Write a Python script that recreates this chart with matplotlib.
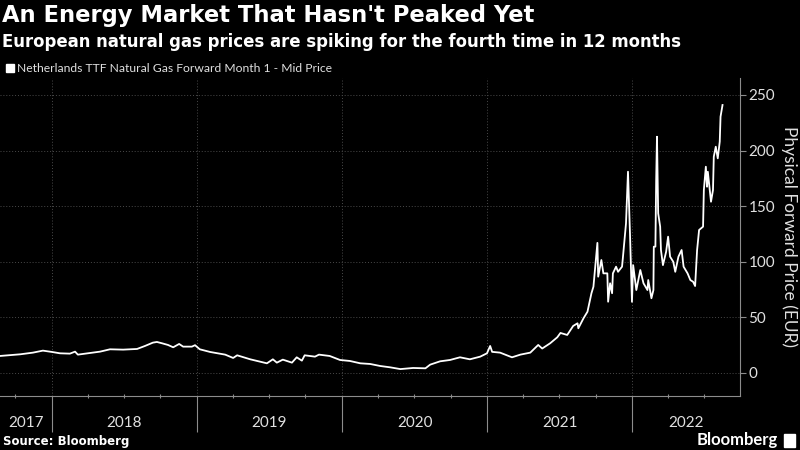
import matplotlib
matplotlib.use("Agg")
import matplotlib.pyplot as plt
import matplotlib.dates as mdates
from matplotlib.patches import Rectangle
import pandas as pd

# TTF front-month prices (EUR/MWh)
dates = ["2017-08-23", "2017-10-13", "2017-11-14", "2017-12-09", "2018-01-01", "2018-01-21",
         "2018-02-15", "2018-02-28", "2018-03-07", "2018-04-06", "2018-05-02", "2018-05-27",
         "2018-06-29", "2018-08-03", "2018-08-23", "2018-09-12", "2018-09-22", "2018-10-05",
         "2018-10-20", "2018-11-02", "2018-11-17", "2018-11-27", "2018-12-19", "2018-12-27",
         "2019-01-08", "2019-02-03", "2019-03-13", "2019-04-02", "2019-04-12", "2019-05-15",
         "2019-06-26", "2019-07-11", "2019-07-21", "2019-08-05", "2019-08-28", "2019-09-09",
         "2019-09-22", "2019-09-29", "2019-10-25", "2019-11-04", "2019-12-01", "2019-12-27",
         "2020-01-21", "2020-02-16", "2020-03-12", "2020-04-06", "2020-05-01", "2020-05-27",
         "2020-06-28", "2020-07-29", "2020-08-10", "2020-09-04", "2020-09-29", "2020-10-24",
         "2020-11-18", "2020-12-14", "2020-12-31", "2021-01-08", "2021-01-13", "2021-02-02",
         "2021-03-04", "2021-03-25", "2021-04-19", "2021-05-09", "2021-05-19", "2021-06-08",
         "2021-06-26", "2021-07-04", "2021-07-21", "2021-08-05", "2021-08-16", "2021-08-18",
         "2021-08-31", "2021-09-10", "2021-09-20", "2021-09-25", "2021-10-05", "2021-10-07",
         "2021-10-15", "2021-10-20", "2021-10-30", "2021-11-01", "2021-11-06", "2021-11-11",
         "2021-11-13", "2021-11-21", "2021-11-26", "2021-12-06", "2021-12-08", "2021-12-16",
         "2021-12-21", "2021-12-26", "2021-12-31", "2022-01-03", "2022-01-11", "2022-01-16",
         "2022-01-21", "2022-01-29", "2022-02-03", "2022-02-08", "2022-02-10", "2022-02-18",
         "2022-02-23", "2022-02-24", "2022-02-28", "2022-03-02", "2022-03-04", "2022-03-07",
         "2022-03-12", "2022-03-14", "2022-03-19", "2022-03-27", "2022-04-01", "2022-04-06",
         "2022-04-14", "2022-04-19", "2022-04-27", "2022-05-05", "2022-05-10", "2022-05-20",
         "2022-05-27", "2022-06-03", "2022-06-08", "2022-06-13", "2022-06-18", "2022-06-28",
         "2022-06-30", "2022-07-05", "2022-07-08", "2022-07-10", "2022-07-18", "2022-07-23",
         "2022-07-25", "2022-07-30", "2022-08-04", "2022-08-09", "2022-08-11", "2022-08-16"]
prices = [15.3, 16.8, 18.3, 20.1, 18.9, 17.7,
          17.4, 19.2, 16.5, 18.0, 19.2, 21.3,
          21.0, 21.6, 24.3, 27.3, 27.9, 26.7,
          25.2, 23.1, 26.1, 23.7, 23.7, 25.0,
          21.3, 18.9, 16.5, 13.5, 15.9, 12.3,
          8.7, 12.3, 9.3, 12.0, 9.3, 14.1,
          11.1, 15.9, 14.7, 16.5, 15.3, 11.7,
          10.8, 8.7, 8.1, 6.3, 5.1, 3.5,
          4.5, 4.2, 7.5, 10.5, 11.7, 14.1,
          12.3, 14.7, 17.7, 24.3, 19.0, 18.3,
          14.1, 16.5, 18.3, 25.2, 22.0, 26.7,
          32.1, 36.0, 34.2, 42.3, 44.7, 40.2,
          49.2, 55.1, 71.7, 77.6, 117.0, 86.6,
          101.6, 89.6, 89.6, 64.1, 80.7, 71.7,
          89.6, 95.6, 91.0, 95.6, 103.0, 134.6,
          181.0, 125.6, 64.0, 97.0, 74.6, 83.6,
          92.6, 80.7, 77.6, 74.6, 83.6, 67.2,
          74.6, 113.6, 113.6, 173.6, 212.5, 143.6,
          131.6, 110.6, 97.0, 109.0, 122.6, 104.6,
          100.0, 91.0, 104.6, 110.6, 95.6, 89.6,
          83.6, 82.0, 78.2, 110.6, 128.6, 131.6,
          164.6, 185.5, 167.5, 181.0, 154.0, 164.6,
          194.5, 203.5, 193.0, 208.0, 230.5, 241.0]
years = [2017, 2018, 2019, 2020, 2021, 2022]
y_ticks = [0, 50, 100, 150, 200, 250]

x_start = pd.Timestamp("2017-08-23")
x_end = pd.Timestamp("2022-09-29")

plt.rcParams['font.family'] = ['Lato', 'DejaVu Sans']
axis_grey = '#8c8c8c'
label_col = '#e0e0e0'

fig = plt.figure(figsize=(8, 4.5), dpi=100, facecolor='black')
ax = fig.add_axes([0, 0.12, 0.925, 0.7067])
ax.set_facecolor('black')

ax.plot(pd.to_datetime(dates), prices, color='white', lw=1.3)

ax.set_xlim(x_start, x_end)
ax.set_ylim(-20.7, 265.3)

# y axis on the right
ax.yaxis.tick_right()
ax.yaxis.set_label_position('right')
ax.set_yticks(y_ticks)
ax.tick_params(axis='y', colors=axis_grey, labelcolor=label_col, labelsize=11,
               length=4, width=0.8, pad=2)
ax.set_ylabel('Physical Forward Price (EUR)', rotation=270, color=label_col,
              fontsize=12.5, labelpad=16)

# x axis: long ticks at year boundaries, short ones at quarters
ax.xaxis.set_major_locator(mdates.YearLocator())
ax.xaxis.set_minor_locator(mdates.MonthLocator(bymonth=[4, 7, 10]))
ax.xaxis.set_major_formatter(plt.NullFormatter())
ax.tick_params(axis='x', which='major', colors=axis_grey, length=26, width=0.8)
ax.tick_params(axis='x', which='minor', colors=axis_grey, length=3, width=0.8,
               direction='inout')

for side in ['left', 'top']:
    ax.spines[side].set_visible(False)
for side in ['right', 'bottom']:
    ax.spines[side].set_color(axis_grey)
    ax.spines[side].set_linewidth(0.8)

ax.grid(True, which='major', color='#4a4a4a', linestyle=(0, (1, 2)), lw=0.7)

# year labels centred on the visible part of each year
for yr in years:
    lo = max(pd.Timestamp(f"{yr}-01-01"), x_start)
    hi = min(pd.Timestamp(f"{yr + 1}-01-01"), x_end)
    mid = lo + (hi - lo) / 2
    ax.annotate(str(yr), xy=(mdates.date2num(mid), 0), xycoords=('data', 'axes fraction'),
                xytext=(0, -27), textcoords='offset pixels', ha='center', va='center',
                color=label_col, fontsize=11)

# titles
fig.text(0.003, 0.992, "An Energy Market That Hasn't Peaked Yet", color='white',
         fontsize=16.3, weight='bold', va='top', family='DejaVu Sans')
fig.text(0.003, 0.927, "European natural gas prices are spiking for the fourth time in 12 months",
         color='white', fontsize=11.9, weight='bold', va='top', family='DejaVu Sans')

# legend
fig.patches.append(Rectangle((6 / 800, 1 - 72 / 450), 8 / 800, 8 / 450,
                             transform=fig.transFigure, color='white'))
fig.text(17 / 800, 1 - 68 / 450, "Netherlands TTF Natural Gas Forward Month 1 - Mid Price",
         color=label_col, fontsize=8.7, va='center')

# footer
fig.text(0.004, 1 - 441 / 450, "Source: Bloomberg", color='white', fontsize=8.5,
         weight='bold', va='center', family='DejaVu Sans')
fig.text(778 / 800, 1 - 440 / 450, "Bloomberg", color='white', fontsize=12,
         weight='bold', va='center', ha='right')
fig.patches.append(Rectangle((784 / 800, 1 - 447 / 450), 11 / 800, 13 / 450,
                             transform=fig.transFigure, color='white'))

fig.savefig('out.png', dpi=100, facecolor='black')
